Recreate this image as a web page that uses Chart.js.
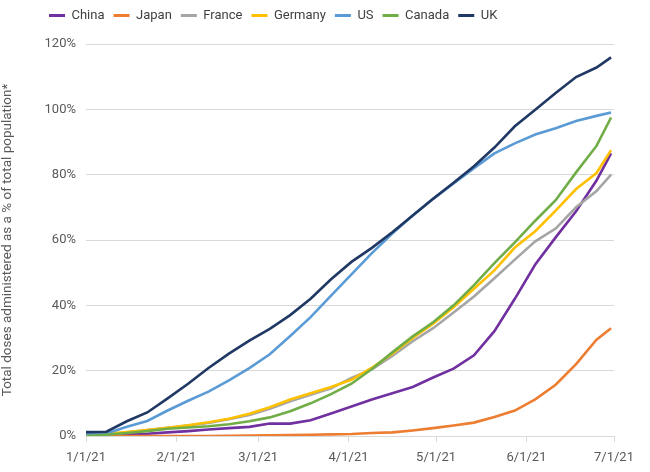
<!DOCTYPE html>
<html>
<head>
  <meta charset="utf-8">
  <script src="https://cdn.jsdelivr.net/npm/chart.js"></script>
  <style>
    body { margin: 0; background: #fff; }
    #wrap { width: 650px; height: 472px; }
  </style>
</head>
<body>
  <div id="wrap"><canvas id="vaxChart"></canvas></div>

  <script>
    // days since 1/1/21 (weekly samples)
    const days = [0, 7, 14, 21, 28, 35, 42, 49, 56, 63, 70, 77, 84, 91, 98, 105, 112, 119, 126, 133, 140, 147, 154, 161, 168, 175, 180];

    const china   = [0.3, 0.4, 0.5, 0.7, 1.1, 1.5, 2, 2.4, 2.8, 3.8, 3.8, 4.8, 6.9, 9, 11.2, 13.1, 15, 17.9, 20.6, 24.7, 32.1, 42, 52.5, 60.8, 68.8, 78.2, 86.5];
    const japan   = [0, 0, 0, 0, 0, 0, 0, 0.05, 0.1, 0.2, 0.3, 0.4, 0.5, 0.6, 0.9, 1.1, 1.7, 2.4, 3.2, 4.1, 5.8, 7.8, 11.2, 15.7, 22, 29.5, 33];
    const france  = [0.2, 0.5, 1.1, 1.8, 2.5, 3.2, 4, 5.1, 6.4, 8.3, 10.6, 12.6, 14.6, 17.8, 20.4, 24.5, 29, 33, 37.8, 42.7, 48.3, 54, 59.6, 63.5, 70, 75, 80];
    const germany = [0.3, 0.7, 1.2, 1.8, 2.5, 3.3, 4.2, 5.3, 6.8, 8.8, 11.2, 13.1, 15, 17.2, 20.9, 25.2, 30, 34.4, 39.4, 45.1, 50.7, 57.7, 62.7, 69, 75.6, 80.5, 87.5];
    const us      = [0.5, 0.8, 2.8, 4.6, 7.8, 10.8, 13.6, 17, 20.8, 25, 30.6, 36.4, 43, 49.5, 56, 62, 67.5, 72.6, 77.3, 82, 86.5, 89.6, 92.3, 94.2, 96.4, 98, 99];
    const canada  = [0, 0.4, 0.9, 1.5, 2.2, 2.6, 3, 3.6, 4.5, 5.7, 7.6, 10, 12.8, 16, 20.5, 25.6, 30.5, 34.8, 40, 46.2, 52.9, 59.3, 65.9, 72.2, 80.7, 88.8, 97.5];
    const uk      = [1.2, 1.3, 4.5, 7.2, 11.5, 16, 20.8, 25.2, 29.2, 32.8, 37, 42, 48, 53.3, 57.6, 62.4, 67.5, 72.6, 77.5, 82.6, 88.3, 94.8, 99.9, 105, 109.9, 112.8, 115.9];

    const countries = ['China', 'Japan', 'France', 'Germany', 'US', 'Canada', 'UK'];
    const colors = ['#7030A0', '#ED7D31', '#A5A5A5', '#FFC000', '#5B9BD5', '#70AD47', '#203864'];
    const series = [china, japan, france, germany, us, canada, uk];

    const xTickDays = [0, 31, 59, 90, 120, 151, 181];
    const xTickLabels = ['1/1/21', '2/1/21', '3/1/21', '4/1/21', '5/1/21', '6/1/21', '7/1/21'];

    const textGray = '#595959';
    const gridGray = '#D9D9D9';

    // Excel style: later series painted on top, legend kept in original order
    const datasets = countries.map((name, i) => ({
      label: name,
      data: series[i].map((v, k) => ({ x: days[k], y: v })),
      borderColor: colors[i],
      backgroundColor: colors[i],
      borderWidth: 2.6,
      pointRadius: 0,
      tension: 0,
      order: countries.length - i
    }));

    // legend: taller box (pushes plot down) and started further left
    const legendTweak = {
      id: 'legendTweak',
      afterInit(chart) {
        const lg = chart.legend;
        const fit = lg.fit.bind(lg);
        lg.fit = function () { fit(); this.height = 44; };
      },
      afterLayout(chart) {
        const lg = chart.legend;
        lg.left = 40;
        lg.right = chart.width;
      }
    };

    const ctx = document.getElementById('vaxChart').getContext('2d');
    new Chart(ctx, {
      type: 'line',
      data: { datasets: datasets },
      plugins: [legendTweak],
      options: {
        responsive: true,
        maintainAspectRatio: false,
        animation: false,
        layout: { padding: { top: 0, right: 36, bottom: 0, left: 0 } },
        plugins: {
          legend: {
            position: 'top',
            align: 'start',
            labels: {
              boxWidth: 16,
              boxHeight: 3,
              padding: 9,
              color: '#404040',
              font: { family: 'Roboto, sans-serif', size: 13 },
              sort: (a, b) => a.datasetIndex - b.datasetIndex,
              generateLabels(chart) {
                const items = Chart.defaults.plugins.legend.labels.generateLabels(chart);
                items.forEach(it => { it.lineWidth = 0; });
                return items;
              }
            }
          },
          tooltip: { enabled: false }
        },
        scales: {
          x: {
            type: 'linear',
            min: 0,
            max: 181,
            afterBuildTicks(scale) {
              scale.ticks = xTickDays.map(v => ({ value: v }));
            },
            afterFit(scale) { scale.height = 36; },
            ticks: {
              autoSkip: false,
              maxRotation: 0,
              padding: 8,
              color: textGray,
              font: { family: 'Roboto, sans-serif', size: 13 },
              callback: (v) => xTickLabels[xTickDays.indexOf(v)]
            },
            grid: {
              drawOnChartArea: false,
              drawTicks: true,
              tickLength: 6,
              color: gridGray
            },
            border: { display: true, color: gridGray, width: 1 }
          },
          y: {
            min: 0,
            max: 120,
            afterFit(scale) { scale.width = 86; },
            ticks: {
              stepSize: 20,
              padding: 10,
              color: textGray,
              font: { family: 'Roboto, sans-serif', size: 13 },
              callback: (v) => v + '%'
            },
            grid: { color: gridGray, drawTicks: false },
            border: { display: false },
            title: {
              display: true,
              text: 'Total doses administered as a % of total population*',
              color: textGray,
              font: { family: 'Roboto, sans-serif', size: 13.5 },
              padding: { top: 0, bottom: 4 }
            }
          }
        }
      }
    });
  </script>
</body>
</html>
